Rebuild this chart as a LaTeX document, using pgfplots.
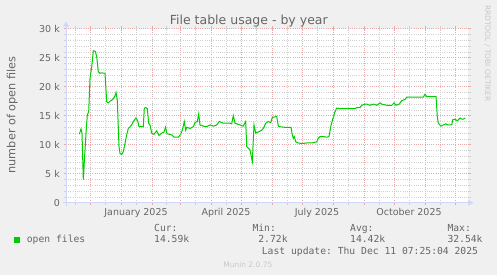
\documentclass[border=0pt]{standalone}
\usepackage{fontspec}
\setmainfont{DejaVu Sans}
\setmonofont{DejaVu Sans Mono}
\usepackage{pgfplots}
\pgfplotsset{compat=1.18}
\definecolor{bgc}{HTML}{F0F0F0}
\definecolor{fontc}{HTML}{666666}
\definecolor{axisc}{HTML}{CFD6F8}
\definecolor{mgrid}{HTML}{EBA8A8}
\definecolor{gridc}{HTML}{D0D0D0}
\definecolor{linec}{HTML}{00CC00}
\definecolor{wm}{HTML}{C8C8C8}
\begin{document}
\begin{tikzpicture}[x=1bp,y=1bp]
\fill[bgc] (0,0) rectangle (497,275);
\useasboundingbox (0,0) rectangle (497,275);
\begin{axis}[
  at={(66bp,72.3bp)}, anchor=south west, scale only axis,
  width=402bp, height=174bp,
  xmin=-55, xmax=347, ymin=0, ymax=30,
  axis background/.style={fill=white},
  axis line style={draw=none},
  xtick={-31,0,31,59,90,120,151,181,212,243,273,304,334},
  xticklabels={},
  minor xtick={-46,-16,15,45,74,105,135,166,196,227,258,288,319},
  extra x ticks={15,105,196,288},
  extra x tick labels={January 2025,April 2025,July 2025,October 2025},
  extra x tick style={grid=none, tick style={draw=none}},
  ytick={0,5,...,30},
  yticklabels={0,5 k,10 k,15 k,20 k,25 k,30 k},
  minor y tick num=4,
  grid=both,
  major grid style={mgrid, dash pattern=on 1bp off 1.2bp, line width=0.75bp},
  minor grid style={gridc, dash pattern=on 1bp off 1.2bp, line width=0.75bp},
  tick align=outside,
  major tick length=2.5bp, minor tick length=2.5bp,
  major tick style={mgrid, line width=0.75bp},
  minor tick style={gridc, line width=0.75bp},
  ticklabel style={font=\fontsize{9.5bp}{11bp}\selectfont, text=fontc, inner sep=0pt},
  yticklabel shift=3.5bp,
  xticklabel shift=3.2bp,
]
\addplot[linec, line width=1bp] coordinates {
(-41.7,11.8) (-40,12.7) (-39,12.0) (-37.7,4.0) (-35,12.0) (-33.7,15.1) (-32.3,15.7)
(-31,21.4) (-29.3,23.4) (-27.7,26.2) (-25.7,26.1) (-24.3,25.2) (-22.7,22.6) (-21,22.3)
(-19.3,22.4) (-16,22.3) (-14.3,17.4) (-12.7,17.2) (-11,17.5) (-8.3,17.8) (-6,18.4)
(-5,19.0) (-3.7,17.7) (-2,9.7) (-1,8.5) (0.7,8.3) (2.3,8.8) (4,10.2) (5.7,11.7)
(7.3,12.8) (9,13.1) (10.7,13.4) (12.3,14.0) (15,14.6) (16.7,14.1) (18,13.1) (22.3,13.1)
(23.3,16.3) (25,16.4) (26.3,16.2) (27.7,13.7) (29,13.4) (30.7,12.0) (33,11.8) (35.7,12.4)
(38,11.6) (40.7,12.0) (43,12.2) (44.5,13.0) (46,11.9) (50.7,11.7) (53,11.3) (57.3,11.3)
(59.7,11.8) (61.3,12.5) (63.3,14.0) (64.7,12.5) (65.7,13.0) (69,12.8) (72.3,13.1)
(74,13.8) (76.3,14.0) (77.7,15.3) (79,13.4) (82.3,13.2) (85.7,13.1) (89,13.4) (92.3,13.2)
(95.7,13.4) (98.3,14.0) (102.3,13.7) (109,13.7) (110.7,13.6) (112.3,15.0) (114,13.7)
(119,13.4) (122.3,13.2) (124.7,14.0) (125.7,9.7) (127.3,9.4) (129,9.1) (131.3,7.1)
(133,13.4) (134.7,12.0) (137.3,12.2) (140.7,12.5) (142.3,12.8) (144.7,13.7) (147.3,14.0)
(149.7,13.8) (151.3,14.7) (154,14.8) (155.7,14.9) (157.3,13.2) (159,13.1) (164,13.0)
(170,13.0) (171.3,11.7) (172.3,11.1) (173.3,11.4) (174.7,10.5) (177.3,10.3) (180.7,10.2)
(185.7,10.3) (190.7,10.3) (195.7,10.5) (197.3,11.1) (199,11.4) (202.3,11.4) (205.7,11.3)
(208,11.4) (209.7,13.1) (211.7,14.4) (214,15.7) (215.7,16.3) (219,16.2) (225.7,16.2)
(234,16.2) (235.7,16.4) (239,16.4) (240.7,16.8) (244,17.0) (245.7,17.0) (249,16.8)
(252.3,17.0) (255.7,16.8) (259,17.2) (260.7,17.0) (265.7,16.8) (270.7,16.8) (273,17.2)
(275,16.8) (278.3,17.0) (280.7,17.6) (282.3,17.7) (284,17.8) (285.7,18.2) (292.3,18.2)
(299,18.2) (302.3,18.2) (304,18.7) (305.7,18.3) (315,18.3) (316.3,14.8) (317.3,13.7)
(320,13.2) (322.3,13.4) (325,13.6) (326.7,13.4) (330.7,13.4) (331.7,14.3) (334,14.4)
(336.3,14.1) (339,14.6) (340.7,14.4) (342.3,14.4) (344.3,14.6)
};
\end{axis}
% axis lines with arrows
\draw[axisc, line width=1bp] (63,72.3) -- (468,72.3);
\fill[axisc] (468,69.3) -- (473.5,72.3) -- (468,75.3) -- cycle;
\draw[axisc, line width=1bp] (66,69.5) -- (66,249);
\fill[axisc] (63,248.5) -- (66,253.5) -- (69,248.5) -- cycle;
% texts
\node[anchor=base, inner sep=0, font=\fontsize{12.5bp}{14bp}\selectfont, text=fontc] at (248.8,251) {File table usage - by year};
\node[rotate=90, anchor=base, inner sep=0, font=\fontsize{11.25bp}{13bp}\selectfont, text=fontc] at (15.3,160) {number of open files};
\node[rotate=-90, anchor=base west, inner sep=0, font=\fontsize{7.5bp}{9bp}\selectfont, text=wm] at (485,270) {RRDTOOL / TOBI OETIKER};
\fill[linec] (14,32.3) rectangle (20,38.3);
\begin{scope}[every node/.style={anchor=base west, inner sep=0, font=\ttfamily\fontsize{9.7bp}{11bp}\selectfont, text=fontc}]
\node at (26.7,32.7) {open files};
\node at (154,44) {Cur:};
\node at (154,32.7) {14.59k};
\node at (252.3,44) {Min:};
\node at (258.2,32.7) {2.72k};
\node at (350,44) {Avg:};
\node at (350,32.7) {14.42k};
\node at (447.3,44) {Max:};
\node at (447.3,32.7) {32.54k};
\node at (261.7,21) {Last update: Thu Dec 11 07:25:04 2025};
\end{scope}
\node[anchor=base, inner sep=0, font=\fontsize{7.5bp}{9bp}\selectfont, text=wm] at (247.8,8) {Munin 2.0.75};
\end{tikzpicture}
\end{document}
